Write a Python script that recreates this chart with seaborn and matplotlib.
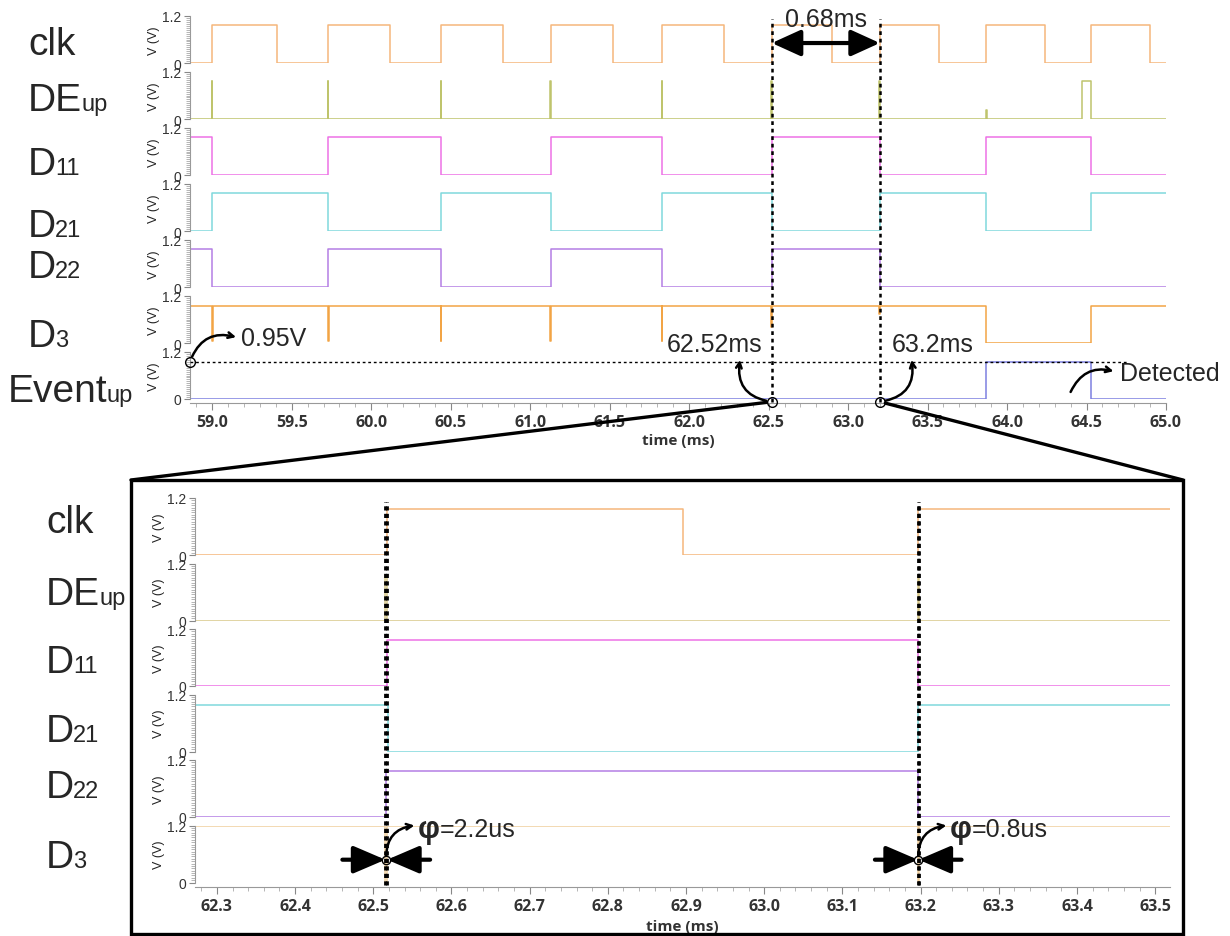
import numpy as np
import pandas as pd
import matplotlib
matplotlib.use("Agg")
import matplotlib.pyplot as plt
import seaborn as sns
from matplotlib.patches import Rectangle, ConnectionPatch
from matplotlib.lines import Line2D
from matplotlib.ticker import MultipleLocator
from matplotlib import transforms

# ---------------- data: full window (time in ms, level in V) ----------------
t0, t1 = 58.86, 65.0

clk_t = [58.86, 59.00, 59.41, 59.73, 60.12, 60.44, 60.83, 61.13, 61.52, 61.83,
         62.22, 62.52, 62.90, 63.20, 63.57, 63.87, 64.24, 64.53, 64.90, 65.0]
clk_v = [0, 0.97, 0, 0.97, 0, 0.97, 0, 0.97, 0, 0.97,
         0, 0.97, 0, 0.97, 0, 0.97, 0, 0.97, 0, 0]

de_t = [58.86, 58.997, 59.001, 59.727, 59.731, 60.437, 60.441, 61.127, 61.131,
        61.827, 61.831, 62.517, 62.521, 63.197, 63.201, 63.867, 63.871, 64.47, 64.53, 65.0]
de_v = [0, 0.97, 0, 0.97, 0, 0.97, 0, 0.97, 0,
        0.97, 0, 0.97, 0, 0.97, 0, 0.23, 0, 0.97, 0, 0]

d11_t = [58.86, 59.00, 59.73, 60.44, 61.13, 61.83, 62.52, 63.20, 63.87, 64.53, 65.0]
d11_v = [0.97, 0, 0.97, 0, 0.97, 0, 0.97, 0, 0.97, 0, 0]

d21_t = [58.86, 59.00, 59.73, 60.44, 61.13, 61.83, 62.52, 63.20, 63.87, 64.53, 65.0]
d21_v = [0, 0.97, 0, 0.97, 0, 0.97, 0, 0.97, 0, 0.97, 0.97]

d22_t = [58.86, 59.00, 59.73, 60.44, 61.13, 61.83, 62.52, 63.20, 65.0]
d22_v = [0.97, 0, 0.97, 0, 0.97, 0, 0.97, 0, 0]

d3_t = [58.86, 58.997, 59.002, 59.727, 59.732, 60.437, 60.442, 61.127, 61.132,
        61.827, 61.832, 62.517, 62.522, 63.197, 63.202, 63.87, 64.53, 65.0]
d3_v = [0.94, 0.05, 0.94, 0.05, 0.94, 0.05, 0.94, 0.05, 0.94,
        0.05, 0.94, 0.40, 0.94, 0.75, 0.94, 0, 0.94, 0.94]

ev_t = [58.86, 63.87, 64.53, 65.0]
ev_v = [0, 0.95, 0, 0]

threshold_v = 0.95
threshold_end = 64.76
event_edges = [62.52, 63.20]

# ---------------- data: zoomed window ----------------
z0, z1 = 62.272, 63.519

zclk_t = [62.272, 62.517, 62.896, 63.197, 63.519]
zclk_v = [0, 0.97, 0, 0.97, 0.97]

zde_t = [62.272, 62.5155, 62.5177, 63.1966, 63.1974, 63.519]
zde_v = [0, 0.95, 0, 0.95, 0, 0]

zd11_t = [62.272, 62.518, 63.197, 63.519]
zd11_v = [0, 0.97, 0, 0]

zd21_t = [62.272, 62.519, 63.197, 63.519]
zd21_v = [0.97, 0, 0.97, 0.97]

zd22_t = [62.272, 62.516, 63.197, 63.519]
zd22_v = [0, 0.97, 0, 0]

zd3_t = [62.272, 62.5155, 62.5177, 63.1966, 63.1974, 63.519]
zd3_v = [1.18, 0, 1.18, 0, 1.18, 1.18]

glitch_edges = [(62.5155, 62.5177), (63.1966, 63.1974)]
glitch_labels = ["=2.2us", "=0.8us"]

names = ["clk", "DE", "D", "D", "D", "D", "Event"]
subs = ["", "up", "11", "21", "22", "3", "up"]
colors = ["#f5b77c", "#bfc46c", "#ee72e6", "#80d8dc", "#b47ee4", "#f2a445", "#7d80e0"]
zcolors = ["#f5b77c", "#d9c98a", "#ee72e6", "#80d8dc", "#b47ee4", "#f0cf9e"]

top_sig = [(clk_t, clk_v), (de_t, de_v), (d11_t, d11_v), (d21_t, d21_v),
           (d22_t, d22_v), (d3_t, d3_v), (ev_t, ev_v)]
zoom_sig = [(zclk_t, zclk_v), (zde_t, zde_v), (zd11_t, zd11_v), (zd21_t, zd21_v),
            (zd22_t, zd22_v), (zd3_t, zd3_v)]

sns.set_style("white")
plt.rcParams['font.family'] = ['Liberation Sans', 'DejaVu Sans']

W, H = 1230, 937
fig = plt.figure(figsize=(W / 100, H / 100), dpi=100)


def px_axes(left, top, right, bottom):
    return fig.add_axes([left / W, 1 - bottom / H, (right - left) / W, (bottom - top) / H])


def draw(ax, t, v, color):
    df = pd.DataFrame({"t": t, "v": v})
    sns.lineplot(data=df, x="t", y="v", ax=ax, color=color, lw=1.1,
                 drawstyle="steps-post", sort=False, estimator=None, legend=False)


def style_row(ax, last, xlim, major, minor, xpad):
    ax.set_xlim(xlim)
    ax.set_ylim(0, 1.2)
    ax.set_yticks([0, 1.2])
    ax.set_yticklabels(["0", "1.2"], fontsize=10)
    ax.yaxis.set_minor_locator(MultipleLocator(0.05))
    ax.tick_params(axis='y', which='major', left=True, length=4, width=0.8, color='#888',
                   labelsize=10, pad=2, labelcolor='#333')
    ax.tick_params(axis='y', which='minor', left=True, length=3, width=0.6, color='#aaa')
    ax.set_ylabel("V (V)", fontsize=9, labelpad=2, color='#222')
    for s in ['top', 'right']:
        ax.spines[s].set_visible(False)
    ax.spines['left'].set_color('#999')
    ax.spines['left'].set_linewidth(0.8)
    if last:
        ax.spines['bottom'].set_color('#999')
        ax.spines['bottom'].set_linewidth(0.8)
        ax.spines['bottom'].set_position(('outward', 3))
        ax.xaxis.set_major_locator(MultipleLocator(major))
        ax.xaxis.set_minor_locator(MultipleLocator(minor))
        ax.tick_params(axis='x', which='major', bottom=True, length=5, width=0.8, color='#888',
                       labelsize=11.5, pad=3, labelcolor='#333')
        ax.tick_params(axis='x', which='minor', bottom=True, length=3, width=0.6, color='#aaa')
        for lab in ax.get_xticklabels():
            lab.set_fontweight('bold')
            lab.set_family('Open Sans')
        ax.set_xlabel("time (ms)", fontsize=11, fontweight='bold', family='Open Sans',
                      labelpad=xpad, color='#333')
    else:
        ax.spines['bottom'].set_visible(False)
        ax.tick_params(axis='x', which='both', bottom=False, labelbottom=False)
        ax.set_xlabel("")


# ---------------- top panel ----------------
top_axes = []
for i, (t, v) in enumerate(top_sig):
    top = 17 + 56 * i
    ax = px_axes(190, top, 1166, top + 47)
    draw(ax, t, v, colors[i])
    style_row(ax, i == len(top_sig) - 1, (t0, t1), 0.5, 0.1, 2)
    top_axes.append(ax)
ax_clk, ax_ev = top_axes[0], top_axes[-1]

# ---------------- zoomed panel ----------------
zoom_axes = []
for i, (t, v) in enumerate(zoom_sig):
    top = 499 + 65.5 * i
    ax = px_axes(195, top, 1170, top + 57)
    draw(ax, t, v, zcolors[i])
    style_row(ax, i == len(zoom_sig) - 1, (z0, z1), 0.1, 0.02, 4)
    zoom_axes.append(ax)
ax_zclk, ax_zd3 = zoom_axes[0], zoom_axes[-1]

# row names with subscripts
renderer = fig.canvas.get_renderer()


def row_label(x_px, base_px, main, sub):
    t = fig.text(x_px / W, 1 - base_px / H, main, fontsize=28, va='baseline', ha='left')
    if sub:
        bb = t.get_window_extent(renderer)
        fig.text((bb.x1 - 1) / W, 1 - base_px / H, sub, fontsize=17, va='baseline', ha='left')


top_base = [55, 111, 175, 237, 278, 347, 402]
top_x = [28, 28, 28, 28, 28, 28, 8]
for i in range(7):
    row_label(top_x[i], top_base[i], names[i], subs[i])
zoom_base = [533, 605, 673, 742, 798, 868]
for i in range(6):
    row_label(46, zoom_base[i], names[i], subs[i])

# ---------------- annotations: top ----------------
ax_ev.plot([t0, threshold_end], [threshold_v, threshold_v], color='k', lw=1,
           ls=(0, (2, 2)), zorder=4)
ax_ev.plot([t0], [threshold_v], 'o', mfc='none', mec='k', ms=7, mew=1, clip_on=False, zorder=6)
ax_ev.annotate("", xy=(59.15, 1.58), xytext=(t0, threshold_v), annotation_clip=False,
               arrowprops=dict(arrowstyle='->', lw=1.8, color='k', shrinkA=4, shrinkB=0,
                               connectionstyle='arc3,rad=-0.45'))
ax_ev.text(59.18, 1.55, "0.95V", fontsize=18, va='center', ha='left')

vtrans = transforms.blended_transform_factory(ax_ev.transData, fig.transFigure)
for xe in event_edges:
    fig.add_artist(Line2D([xe, xe], [1 - 403 / H, 1 - 20 / H], transform=vtrans,
                          color='k', lw=1.8, ls=(0, (1.5, 1.5)), zorder=10))
    ax_ev.plot([xe], [-0.07], 'o', mfc='none', mec='k', ms=7, mew=1, clip_on=False, zorder=6)

ax_ev.annotate("", xy=(62.32, 1.0), xytext=(event_edges[0], -0.07), annotation_clip=False,
               arrowprops=dict(arrowstyle='->', lw=1.8, color='k', shrinkA=4, shrinkB=0,
                               connectionstyle='arc3,rad=-0.5'))
ax_ev.text(62.16, 1.40, "62.52ms", fontsize=18, va='center', ha='center')
ax_ev.annotate("", xy=(63.40, 1.0), xytext=(event_edges[1], -0.07), annotation_clip=False,
               arrowprops=dict(arrowstyle='->', lw=1.8, color='k', shrinkA=4, shrinkB=0,
                               connectionstyle='arc3,rad=0.5'))
ax_ev.text(63.53, 1.40, "63.2ms", fontsize=18, va='center', ha='center')

ax_ev.annotate("", xy=(64.67, 0.71), xytext=(64.40, 0.18), annotation_clip=False,
               arrowprops=dict(arrowstyle='->', lw=1.8, color='k', shrinkA=0, shrinkB=0,
                               connectionstyle='arc3,rad=-0.4'))
ax_ev.text(64.71, 0.66, "Detected", fontsize=18, va='center', ha='left')

ax_clk.annotate("", xy=(event_edges[1], 0.51), xytext=(event_edges[0], 0.51), annotation_clip=False,
                arrowprops=dict(arrowstyle='<|-|>,head_length=1.1,head_width=0.5', lw=3,
                                color='k', shrinkA=0, shrinkB=0, mutation_scale=16))
ax_clk.text(np.mean(event_edges), 1.12, "0.68ms", fontsize=18, va='center', ha='center')

# ---------------- zoom box and connectors ----------------
fig.add_artist(Rectangle((131 / W, 1 - 935 / H), (1183 - 131) / W, (935 - 481) / H,
                         transform=fig.transFigure, fill=False, lw=2.4, ec='k'))
for xe, corner in zip(event_edges, [131, 1183]):
    fig.add_artist(ConnectionPatch(xyA=(xe, -0.07), coordsA=ax_ev.transData,
                                   xyB=(corner / W, 1 - 481 / H), coordsB=fig.transFigure,
                                   color='k', lw=2.4, shrinkA=4))

# ---------------- annotations: zoom ----------------
ztrans = transforms.blended_transform_factory(ax_zd3.transData, fig.transFigure)
for (ga, gb), lab in zip(glitch_edges, glitch_labels):
    for xe in (ga, gb):
        fig.add_artist(Line2D([xe, xe], [1 - 886 / H, 1 - 503 / H], transform=ztrans,
                              color='k', lw=2, ls=(0, (1.5, 1.2)), zorder=10))
    mid = (ga + gb) / 2
    ax_zd3.annotate("", xy=(ga, 0.48), xytext=(ga - 0.055, 0.48), annotation_clip=False,
                    arrowprops=dict(arrowstyle='-|>,head_length=1.4,head_width=0.6', lw=3,
                                    color='k', shrinkA=0, shrinkB=0, mutation_scale=14))
    ax_zd3.annotate("", xy=(gb, 0.48), xytext=(gb + 0.055, 0.48), annotation_clip=False,
                    arrowprops=dict(arrowstyle='-|>,head_length=1.4,head_width=0.6', lw=3,
                                    color='k', shrinkA=0, shrinkB=0, mutation_scale=14))
    ax_zd3.plot([mid], [0.48], 'o', mfc='none', mec='k', ms=6, mew=1, clip_on=False, zorder=12)
    ax_zd3.annotate("", xy=(mid + 0.036, 1.2), xytext=(mid, 0.48), annotation_clip=False,
                    arrowprops=dict(arrowstyle='->', lw=1.8, color='k', shrinkA=3, shrinkB=0,
                                    connectionstyle='arc3,rad=-0.45'))
    tp = ax_zd3.text(mid + 0.04, 1.13, "φ", fontsize=22, fontweight='bold', va='center', ha='left')
    bb = tp.get_window_extent(renderer)
    fig.text(bb.x1 / W, 1 - 830 / H, lab, fontsize=18, va='center', ha='left')

fig.savefig("out.png", dpi=100, facecolor='white')
